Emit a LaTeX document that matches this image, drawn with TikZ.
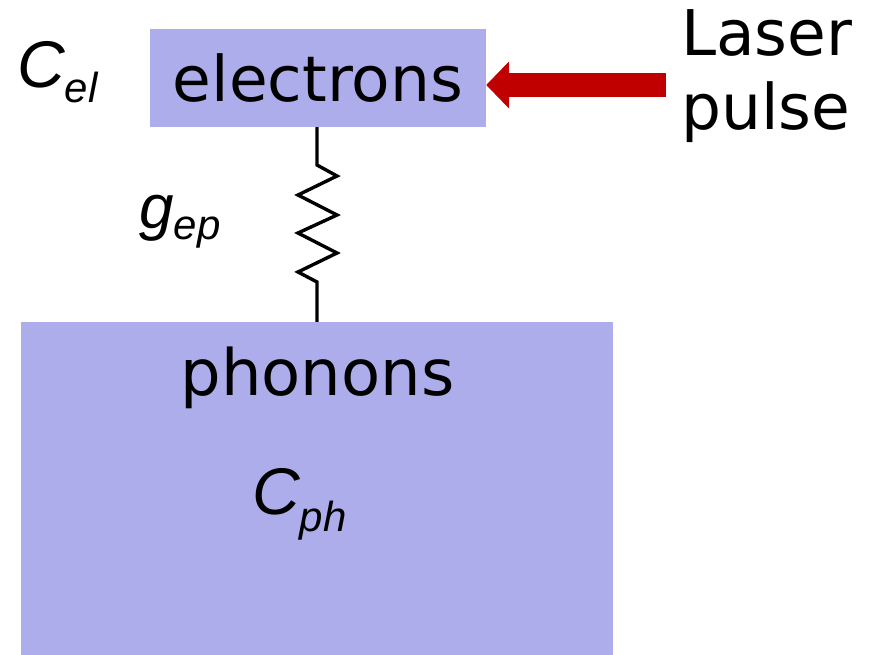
\documentclass[tikz,border=0pt]{standalone}
\usepackage{fontspec}
\setmainfont{DejaVu Sans}
\newfontfamily\labfont{Liberation Sans}
\usetikzlibrary{arrows.meta}
\definecolor{boxblue}{RGB}{173,173,235}
\definecolor{laserred}{RGB}{192,0,0}
\tikzset{
  bluebox/.style={fill=boxblue, draw=none, inner sep=0pt, rectangle},
  bigtext/.style={inner sep=0pt, font=\fontsize{63}{75}\selectfont},
  lab/.style={inner sep=0pt, anchor=base west},
  laserarrow/.style={draw=laserred, line width=24pt, -{Triangle[length=23pt,width=46pt]}, fill=laserred},
  spring/.style={draw=black, line width=3.4pt, line join=miter},
}
\begin{document}
\begin{tikzpicture}[x=1pt,y=-1pt]
\useasboundingbox (0,0) rectangle (875,655);
% boxes
\node[bluebox, minimum width=336pt, minimum height=98pt, font=\fontsize{63}{75}\selectfont] (el) at (318,78) {electrons};
\node[bluebox, minimum width=592pt, minimum height=333pt] (ph) at (317,488.5) {};
\node[bigtext, anchor=base, font=\fontsize{64}{75}\selectfont] (phtext) at (317.5,395) {phonons};
% labels
\node[lab] (cel) at (17,88) {\labfont\itshape\fontsize{66}{66}\selectfont C\raisebox{-15pt}{\fontsize{42}{42}\selectfont el}};
\node[lab] (gep) at (139,228) {\labfont\itshape\fontsize{62}{62}\selectfont g\raisebox{-12pt}{\fontsize{42}{42}\selectfont ep}};
\node[lab] (cph) at (252,514) {\labfont\itshape\fontsize{66}{66}\selectfont C\raisebox{-17pt}{\fontsize{42}{42}\selectfont ph}};
% laser pulse
\node[bigtext, anchor=base west] (laser1) at (681,56) {Laser};
\node[bigtext, anchor=base west] (laser2) at (681,130) {pulse};
\coordinate (src) at (666,85);
\draw[laserarrow] (src) -- (src -| el.east);
% spring (electron-phonon coupling)
\draw[spring] (el.south -| 317,0) -- (317,165) -- (337,176) -- (298,195) -- (337,215) -- (298,233) -- (337,253) -- (298,272) -- (317,282) -- (ph.north -| 317,0);
\end{tikzpicture}
\end{document}
